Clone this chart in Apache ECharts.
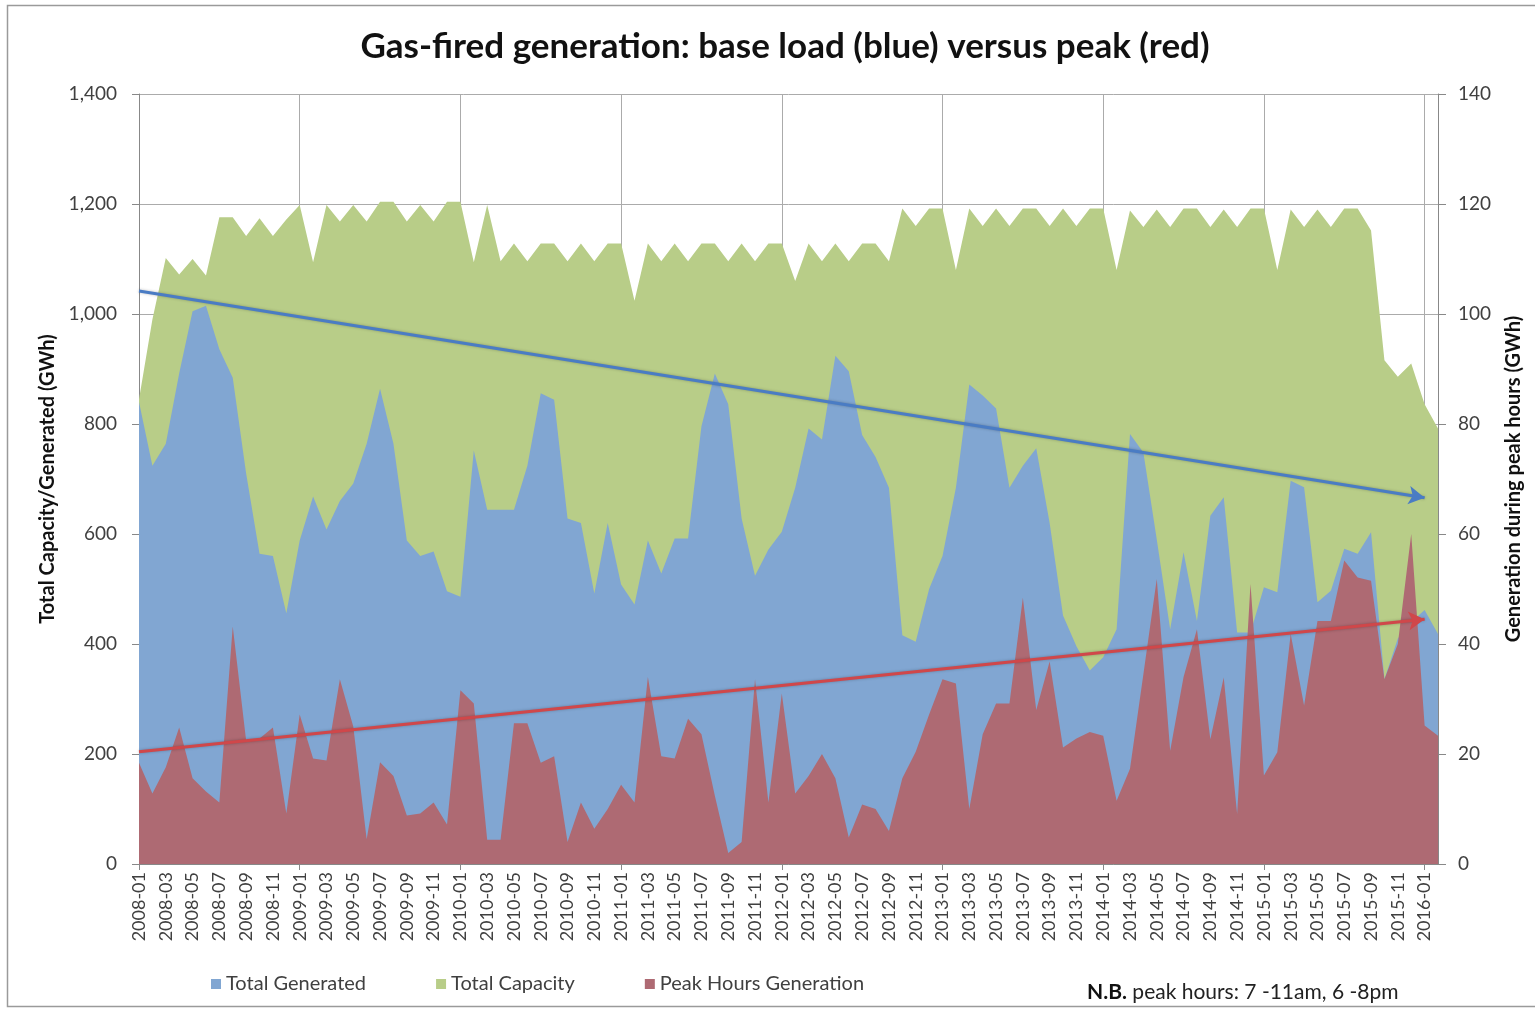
<!DOCTYPE html>
<html>
<head>
<meta charset="utf-8">
<title>Gas-fired generation</title>
<script src="https://cdn.jsdelivr.net/npm/echarts@6.0.0/dist/echarts.min.js"></script>
<style>
  html, body { margin: 0; padding: 0; background: #fff; }
  #chart { width: 1535px; height: 1011px; }
</style>
</head>
<body>
<div id="chart"></div>
<script>
// months 2008-01 .. 2016-02
const months = []
for (let y = 2008; y <= 2016; y++) {
    for (let m = 1; m <= 12; m++) {
        if (y === 2016 && m > 2) break
        months.push(y + '-' + String(m).padStart(2, '0'))
    }
}

// Total Capacity (GWh, left axis)
const totalCapacity = [
    845, 990, 1102, 1072, 1100, 1070, 1176, 1176, 1142, 1174, 1142, 1172,
    1198, 1094, 1198, 1168, 1198, 1168, 1204, 1204, 1168, 1198, 1168, 1204,
    1204, 1094, 1198, 1096, 1128, 1096, 1128, 1128, 1096, 1128, 1096, 1128,
    1128, 1024, 1128, 1096, 1128, 1096, 1128, 1128, 1096, 1128, 1096, 1128,
    1128, 1060, 1128, 1096, 1128, 1096, 1128, 1128, 1096, 1192, 1160, 1192,
    1192, 1080, 1192, 1160, 1192, 1160, 1192, 1192, 1160, 1192, 1160, 1192,
    1192, 1080, 1188, 1158, 1190, 1158, 1192, 1192, 1158, 1190, 1158, 1192,
    1192, 1080, 1190, 1158, 1190, 1158, 1192, 1192, 1152, 916, 886, 910,
    836, 792
]

// Total Generated (GWh, left axis)
const totalGenerated = [
    840, 724, 764, 892, 1005, 1015, 936, 884, 710, 564, 560, 456,
    588, 668, 608, 660, 692, 764, 864, 764, 588, 560, 568, 496,
    486, 752, 644, 644, 644, 724, 856, 844, 628, 620, 492, 620,
    508, 472, 588, 528, 592, 592, 796, 892, 836, 628, 524, 572,
    604, 684, 792, 772, 924, 896, 780, 740, 684, 416, 404, 500,
    560, 684, 872, 852, 828, 684, 724, 756, 620, 452, 396, 352,
    376, 427, 782, 748, 590, 427, 567, 442, 633, 667, 421, 421,
    503, 494, 697, 685, 476, 497, 573, 564, 603, 336, 410, 440,
    462, 418
]

// Peak Hours Generation (GWh, right axis)
const peakGeneration = [
    18.4, 12.8, 17.6, 24.8, 15.6, 13.2, 11.2, 43.2, 22.4, 22.8, 24.8, 9.2,
    27.2, 19.2, 18.8, 33.6, 25, 4.5, 18.5, 16, 8.8, 9.2, 11.2, 7.2,
    31.6, 29.2, 4.4, 4.4, 25.6, 25.6, 18.4, 19.6, 4, 11.2, 6.4, 10,
    14.4, 11.2, 34, 19.6, 19.2, 26.4, 23.6, 12.4, 2, 4, 33.6, 11.2,
    31, 12.8, 16, 20, 15.6, 4.8, 10.8, 10, 6, 15.6, 20.4, 27.2,
    33.6, 32.8, 10, 23.6, 29.2, 29.2, 48.4, 28, 36.8, 21.2, 22.8, 24,
    23.3, 11.5, 17.3, 34.5, 51.8, 20.6, 34, 42.7, 22.7, 33.9, 9.1, 50.9,
    16.1, 20.3, 41.8, 28.8, 44.2, 44.2, 55.2, 52.1, 51.5, 33.6, 40, 60,
    25.2, 23.3
]

// trend arrows: start / end values (at 2008-01 and 2016-01)
const trendMonths = ['2008-01', '2016-01']
const generatedTrend = [1042, 666]
const peakTrend = [20.4, 44.5]

const leftTicks = { min: 0, max: 1400, interval: 200 }
const rightTicks = { min: 0, max: 140, interval: 20 }

const FONT = 'Lato, "Open Sans", sans-serif'
const GRID_COLOR = '#ababab'
const TEXT_COLOR = '#404040'

const chart = echarts.init(document.getElementById('chart'), null, { renderer: 'canvas' })

const yearLine = (idx) => idx % 12 === 0

const trendLine = (vals, color) => ({
    silent: true,
    symbol: ['none', 'arrow'],
    symbolSize: [14, 16],
    label: { show: false },
    lineStyle: { color: color, width: 3, type: 'solid', shadowBlur: 3, shadowColor: 'rgba(0,0,0,0.25)' },
    emphasis: { disabled: true },
    data: [[
        { coord: [trendMonths[0], vals[0]] },
        { coord: [trendMonths[1], vals[1]] }
    ]]
})

const option = {
    animation: false,
    textStyle: { fontFamily: FONT },
    title: {
        text: 'Gas-fired generation: base load (blue) versus peak (red)',
        left: 780,
        textAlign: 'center',
        top: 24,
        textStyle: { fontFamily: FONT, fontSize: 35, fontWeight: 'bold', color: '#111' }
    },
    legend: {
        data: ['Total Generated', 'Total Capacity', 'Peak Hours Generation'],
        left: 206,
        top: 969,
        icon: 'rect',
        itemWidth: 10,
        itemHeight: 10,
        itemGap: 70,
        textStyle: { fontFamily: FONT, fontSize: 20, color: TEXT_COLOR }
    },
    grid: { left: 139, right: 97, top: 94, bottom: 147, containLabel: false },
    xAxis: {
        type: 'category',
        data: months,
        boundaryGap: false,
        axisLine: { show: true, lineStyle: { color: '#888' } },
        axisTick: { show: true, interval: yearLine, length: 6, lineStyle: { color: '#888' } },
        axisLabel: { rotate: 90, interval: 1, margin: 8, fontSize: 18, color: TEXT_COLOR, fontFamily: FONT },
        splitLine: { show: true, interval: yearLine, lineStyle: { color: GRID_COLOR, width: 1 } }
    },
    yAxis: [
        {
            type: 'value',
            min: leftTicks.min,
            max: leftTicks.max,
            interval: leftTicks.interval,
            name: 'Total Capacity/Generated (GWh)',
            nameLocation: 'middle',
            nameRotate: 90,
            nameGap: 80,
            nameTextStyle: { fontFamily: FONT, fontSize: 20, fontWeight: 'bold', color: '#111' },
            axisLine: { show: true, lineStyle: { color: '#888' } },
            axisTick: { show: true, length: 7, lineStyle: { color: '#888' } },
            axisLabel: {
                margin: 22, fontSize: 19, color: TEXT_COLOR, fontFamily: FONT,
                formatter: (v) => v.toLocaleString('en-US')
            },
            splitLine: { show: true, lineStyle: { color: GRID_COLOR, width: 1 } }
        },
        {
            type: 'value',
            min: rightTicks.min,
            max: rightTicks.max,
            interval: rightTicks.interval,
            position: 'right',
            name: 'Generation during peak hours (GWh)',
            nameLocation: 'middle',
            nameRotate: 90,
            nameGap: 66,
            nameTextStyle: { fontFamily: FONT, fontSize: 20, fontWeight: 'bold', color: '#111' },
            axisLine: { show: true, lineStyle: { color: '#888' } },
            axisTick: { show: true, length: 8, lineStyle: { color: '#888' } },
            axisLabel: { margin: 20, fontSize: 19, color: TEXT_COLOR, fontFamily: FONT },
            splitLine: { show: false }
        }
    ],
    series: [
        {
            name: 'Total Capacity',
            type: 'line',
            data: totalCapacity,
            yAxisIndex: 0,
            showSymbol: false,
            lineStyle: { width: 0 },
            itemStyle: { color: '#b8cd88' },
            areaStyle: { color: '#b8cd88', opacity: 1 },
            z: 1
        },
        {
            name: 'Total Generated',
            type: 'line',
            data: totalGenerated,
            yAxisIndex: 0,
            showSymbol: false,
            lineStyle: { width: 0 },
            itemStyle: { color: '#81a6d2' },
            areaStyle: { color: '#81a6d2', opacity: 1 },
            markLine: trendLine(generatedTrend, '#4a7cc4'),
            z: 2
        },
        {
            name: 'Peak Hours Generation',
            type: 'line',
            data: peakGeneration,
            yAxisIndex: 1,
            showSymbol: false,
            lineStyle: { width: 0 },
            itemStyle: { color: '#ae6a73' },
            areaStyle: { color: '#ae6a73', opacity: 1 },
            markLine: trendLine(peakTrend, '#d0474a'),
            z: 3
        }
    ],
    graphic: [
        {
            type: 'rect',
            shape: { x: 7.5, y: 5.5, width: 1540, height: 1001 },
            style: { fill: 'none', stroke: '#9a9a9a', lineWidth: 1.5 },
            silent: true,
            z: -10
        },
        {
            type: 'text',
            left: 1087,
            top: 982,
            style: {
                text: '{b|N.B.} peak hours: 7 -11am, 6 -8pm',
                rich: {
                    b: { fontFamily: FONT, fontSize: 21, fontWeight: 'bold', fill: '#111' }
                },
                fontFamily: FONT,
                fontSize: 21,
                fill: '#222'
            }
        }
    ]
}

chart.setOption(option)
</script>
</body>
</html>
